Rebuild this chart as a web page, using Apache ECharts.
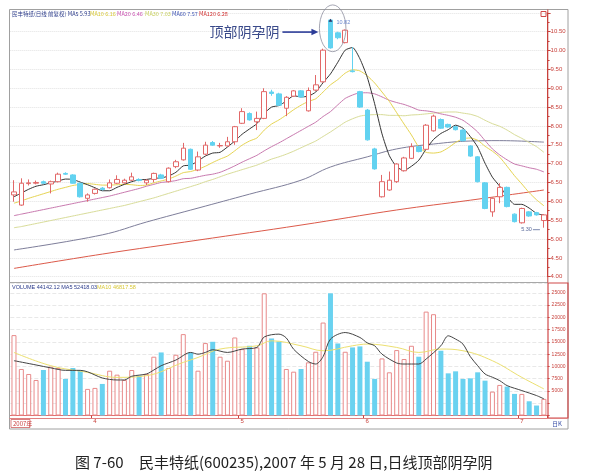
<!DOCTYPE html>
<html><head><meta charset="utf-8">
<script src="https://cdn.jsdelivr.net/npm/echarts/dist/echarts.min.js"></script>
<style>html,body{margin:0;padding:0;background:#fff}#c{width:595px;height:473px}</style>
</head><body><div id="c"></div>
<script>
// ---------- data ----------
const year = '2007';
const dates = ['03-20','03-21','03-22','03-23','03-26','03-27','03-28','03-29','03-30',
 '04-02','04-03','04-04','04-05','04-06','04-09','04-10','04-11','04-12','04-13','04-16','04-17','04-18','04-19','04-20','04-23','04-24','04-25','04-26','04-27','04-30',
 '05-08','05-09','05-10','05-11','05-14','05-15','05-16','05-17','05-18','05-21','05-22','05-23','05-24','05-25','05-28','05-29','05-30','05-31',
 '06-01','06-04','06-05','06-06','06-07','06-08','06-11','06-12','06-13','06-14','06-15','06-18','06-19','06-20','06-21','06-22','06-25','06-26','06-27','06-28','06-29',
 '07-02','07-03','07-04','07-05'];
const opens = [6.17,5.90,6.47,6.48,6.52,6.46,6.52,6.74,6.70,6.48,
 6.08,6.21,6.35,6.36,6.48,6.49,6.56,6.58,6.49,6.58,
 6.70,6.52,6.92,7.10,7.38,6.83,7.25,7.56,7.47,7.47,
 7.58,8.07,8.33,8.11,8.20,8.90,8.85,8.47,8.79,8.93,
 8.40,8.95,9.17,10.81,10.47,10.21,9.46,8.91,8.42,7.39,
 6.12,6.30,6.52,6.81,7.14,7.45,7.38,7.87,8.17,8.04,
 7.98,7.89,7.47,7.18,6.49,5.72,6.12,6.37,5.66,5.43,
 5.72,5.70,5.49];
const closes = [6.25,6.48,6.49,6.50,6.48,6.52,6.72,6.72,6.48,6.12,
 6.17,6.32,6.31,6.49,6.58,6.56,6.65,6.55,6.56,6.74,
 6.61,6.88,7.05,7.41,6.85,7.18,7.49,7.49,7.48,7.58,
 7.98,8.38,8.16,8.20,8.91,8.86,8.55,8.76,8.93,8.77,
 8.94,9.09,10.01,10.07,10.34,10.54,9.44,8.50,7.63,6.86,
 6.52,6.56,6.99,7.15,7.45,7.32,8.02,8.26,7.94,7.97,
 7.90,7.61,7.20,6.52,5.81,6.08,6.37,5.86,5.46,5.81,
 5.61,5.64,5.64];
const lows = [5.99,5.88,6.42,6.45,6.46,6.21,6.50,6.70,6.47,6.10,
 5.99,6.18,6.29,6.34,6.46,6.47,6.54,6.53,6.43,6.50,
 6.59,6.50,6.88,7.08,6.83,6.80,7.22,7.47,7.42,7.45,
 7.50,8.05,8.14,7.89,8.18,8.80,8.53,8.26,8.77,8.75,
 8.38,8.93,9.15,10.05,10.30,10.19,9.42,8.48,7.61,6.84,
 6.10,6.28,6.49,6.79,7.12,7.30,7.36,7.85,7.92,7.95,
 7.88,7.59,7.18,6.50,5.79,5.59,5.95,5.84,5.44,5.41,
 5.59,5.62,5.30];
const highs = [6.56,6.61,6.58,6.55,6.55,6.55,6.76,6.77,6.72,6.50,
 6.21,6.34,6.38,6.58,6.69,6.60,6.76,6.61,6.58,6.76,
 6.73,6.90,7.10,7.55,7.40,7.32,7.58,7.60,7.55,7.71,
 8.00,8.47,8.36,8.38,9.00,8.96,8.88,8.79,8.95,8.95,
 9.02,9.35,10.05,10.82,10.50,10.56,10.09,8.93,8.45,7.42,
 6.70,6.79,7.01,7.18,7.54,7.47,8.05,8.30,8.20,8.06,
 8.00,7.91,7.49,7.20,6.51,6.10,6.48,6.39,5.68,5.83,
 5.74,5.72,5.66];
const volumes = [16380,9480,8460,7240,9270,9950,9680,7450,9680,9270,
 5420,5620,6430,9130,8320,7240,9270,8120,8460,11980,
 12850,9680,12380,16580,12850,9130,14760,15020,11980,11160,
 15900,13530,14210,13870,24900,15700,15090,9480,8930,9480,
 10830,12990,18940,24900,14680,12990,13870,14080,10960,7450,
 11630,8800,13330,11510,14210,11980,21170,20640,13200,8590,
 9000,7450,7570,8800,7100,4870,6230,5890,4400,4400,
 2900,2030,3390];
const ma5 = [6.12,6.22,6.32,6.40,6.44,6.49,6.54,6.59,6.58,6.51,
 6.44,6.36,6.28,6.28,6.37,6.45,6.52,6.57,6.58,6.61,
 6.62,6.67,6.77,6.94,6.96,7.07,7.20,7.28,7.30,7.44,
 7.60,7.78,7.92,8.06,8.33,8.50,8.54,8.66,8.80,8.77,
 8.79,8.90,9.15,9.38,9.69,10.01,10.08,9.78,9.29,8.59,
 7.79,7.21,6.91,6.82,6.93,7.09,7.39,7.64,7.80,7.90,
 8.02,7.94,7.72,7.44,7.01,6.64,6.40,6.13,5.92,5.92,
 5.82,5.68,5.63];
const ma10 = [5.95,6.01,6.08,6.14,6.20,6.26,6.32,6.37,6.42,6.45,
 6.47,6.45,6.43,6.43,6.44,6.45,6.44,6.42,6.43,6.49,
 6.54,6.59,6.67,6.76,6.79,6.85,6.93,7.03,7.12,7.20,
 7.34,7.49,7.60,7.68,7.89,8.05,8.16,8.29,8.43,8.55,
 8.65,8.72,8.90,9.09,9.23,9.40,9.49,9.46,9.33,9.14,
 8.90,8.65,8.35,8.05,7.76,7.44,7.30,7.28,7.31,7.42,
 7.56,7.66,7.68,7.62,7.46,7.33,7.17,6.93,6.68,6.46,
 6.23,6.04,5.88];
const ma20 = [5.62,5.66,5.70,5.74,5.78,5.82,5.86,5.90,5.94,5.98,
 6.02,6.06,6.10,6.14,6.19,6.24,6.29,6.34,6.40,6.45,
 6.50,6.52,6.55,6.60,6.61,6.65,6.69,6.72,6.77,6.85,
 6.94,7.04,7.13,7.22,7.34,7.45,7.55,7.66,7.77,7.88,
 7.99,8.10,8.25,8.38,8.56,8.73,8.82,8.88,8.88,8.85,
 8.77,8.68,8.62,8.57,8.50,8.42,8.40,8.37,8.32,8.28,
 8.23,8.15,8.01,7.84,7.61,7.39,7.23,7.10,6.99,6.94,
 6.89,6.85,6.78];
const ma30 = [5.30,5.33,5.37,5.41,5.45,5.49,5.53,5.57,5.61,5.65,
 5.69,5.73,5.77,5.81,5.85,5.89,5.94,5.99,6.04,6.09,
 6.15,6.21,6.27,6.33,6.39,6.45,6.52,6.58,6.65,6.72,
 6.78,6.84,6.90,6.96,7.04,7.12,7.18,7.25,7.33,7.42,
 7.51,7.60,7.72,7.84,7.97,8.10,8.19,8.26,8.29,8.30,
 8.30,8.28,8.28,8.27,8.29,8.30,8.32,8.34,8.36,8.37,
 8.37,8.34,8.31,8.25,8.15,8.06,7.99,7.89,7.77,7.67,
 7.56,7.45,7.30];
const ma60Pts = [[0,4.71],[12,5.11],[18,5.45],[25,5.82],[32,6.19],[39,6.56],[43,6.91],[48,7.18],[52,7.39],[57,7.52],[62,7.60],[66,7.61],[72,7.57]];
const ma120Pts = [[0,4.22],[12,4.60],[25,4.97],[39,5.37],[52,5.77],[62,6.03],[72,6.30]];
const volMa5Pts = [[0,11170],[3,10300],[5,9700],[7,9200],[9,9200],[10,8900],[12,7650],[14,7240],[15,7240],[16,8000],[18,8460],[19,9270],[20,10150],[22,11300],[24,12850],[25,12500],[26,12850],[27,13400],[29,12850],[31,13540],[33,13870],[34,16000],[36,16580],[37,15800],[38,13500],[40,11000],[41,10490],[42,12000],[43,15570],[45,16910],[47,15900],[48,14800],[49,14210],[50,12500],[52,10700],[53,10490],[55,10490],[56,11510],[58,14210],[59,16240],[60,15570],[61,14550],[62,12000],[63,10150],[64,8460],[65,7800],[66,7100],[67,6090],[69,5080],[71,4060],[72,3390]];
const volMa10Pts = [[0,12850],[5,10150],[10,8790],[14,7770],[18,8120],[23,10820],[25,11830],[28,13540],[33,14210],[35,15220],[39,14210],[42,13200],[46,14210],[48,14550],[52,13870],[55,12850],[58,13540],[61,13200],[65,11160],[69,7770],[72,5420]];
const priceAxis = {min: 4, max: 11, step: 0.5};
const volAxis = {min: 0, max: 27000, step: 2500, firstLabel: 5000, lastLabel: 25000};
const monthTickIdx = [11, 31, 48, 69];
const monthTickLabels = ['4', '5', '6', '7'];
const titleTexts = ['民丰特纸(日线 前复权) MA5 5.93', 'MA10 6.16', 'MA20 6.46', 'MA30 7.03', 'MA60 7.57', 'MA120 6.28'];
const volTitleTexts = ['VOLUME 44142.12 MA5 52418.03', 'MA10 46817.58'];
const highMark = {idx: 43, value: 10.82, label: '10.82'};
const lowMark = {idx: 72, value: 5.30, label: '5.30'};
const patternLabel = '顶部阴孕阴';
const captionNo = '图 7-60';
const captionText = '民丰特纸(600235),2007 年 5 月 28 日,日线顶部阴孕阴';

// ---------- styles ----------
const UP = '#e26868', DOWN = '#62d2f0', AXISRED = '#c8423c';
const C = {ma5:'#333333', ma10:'#e6d452', ma20:'#c878ae', ma30:'#d8dc98', ma60:'#7e7e9a', ma120:'#dc5a4a'};
const titleColors = ['#2a3a8a', '#d8c838', '#c850b0', '#c8d060', '#3a50b0', '#d03030'];
const titleX = [12, 90, 117, 145, 172, 199];
const GL = 10.3, GR = 47.4;

const chart = echarts.init(document.getElementById('c'));
const ohlc = dates.map((d, i) => [opens[i], closes[i], lows[i], highs[i]]);
const upVol = volumes.map((v, i) => closes[i] >= opens[i] ? v : '-');
const downVol = volumes.map((v, i) => closes[i] < opens[i] ? v : '-');
const maLine = (name, data, color, smooth) => ({type:'line', name, data, xAxisIndex:0, yAxisIndex:0,
  symbol:'none', smooth: smooth || false, lineStyle:{color, width:1}, silent:true, z:3});

const option = {
  animation: false,
  backgroundColor: '#ffffff',
  grid: [
    {left: GL, right: GR, top: 12.85, bottom: 196.3},
    {left: GL, right: GR, top: 283, bottom: 57.5}
  ],
  xAxis: [
    {type:'category', gridIndex:0, data: dates, boundaryGap:true,
     axisLine:{show:false}, axisTick:{show:false}, axisLabel:{show:false}, splitLine:{show:false}},
    {type:'category', gridIndex:1, data: dates, boundaryGap:true,
     axisLine:{show:true, lineStyle:{color:'#e07070', width:1}},
     axisTick:{show:true, interval:(i) => monthTickIdx.includes(i), length:3, lineStyle:{color:AXISRED}},
     axisLabel:{show:true, interval:(i) => monthTickIdx.includes(i), margin:3, fontSize:6, color:AXISRED,
       fontFamily:'Liberation Sans',
       formatter:(v, i) => { const k = monthTickIdx.indexOf(i); return k >= 0 ? monthTickLabels[k] : ''; }},
     splitLine:{show:false}}
  ],
  yAxis: [
    {type:'value', gridIndex:0, position:'right', min:priceAxis.min, max:priceAxis.max, interval:priceAxis.step,
     axisLine:{show:true, lineStyle:{color:AXISRED, width:1}},
     axisTick:{show:true, length:3, lineStyle:{color:AXISRED}},
     minorTick:{show:true, splitNumber:2, length:2, lineStyle:{color:AXISRED}},
     axisLabel:{margin:3, fontSize:6, color:AXISRED, fontFamily:'Liberation Sans', showMaxLabel:false,
       formatter:(v) => v >= priceAxis.max - 0.01 ? '' : v.toFixed(2)},
     splitLine:{show:true, lineStyle:{color:'#e2e2e2', type:'dotted', width:1}}},
    {type:'value', gridIndex:1, position:'right', min:volAxis.min, max:volAxis.max, interval:volAxis.step,
     axisLine:{show:false}, axisTick:{show:true, length:2, lineStyle:{color:AXISRED}},
     axisLabel:{margin:4, fontSize:5, color:AXISRED, fontFamily:'Liberation Sans', showMaxLabel:false,
       formatter:(v) => (v >= volAxis.firstLabel && v <= volAxis.lastLabel) ? String(v) : ''},
     splitLine:{show:true, lineStyle:{color:'#e8e8e8', type:'dashed', width:1}}}
  ],
  series: [
    maLine('MA120', ma120Pts, C.ma120, 0.4),
    maLine('MA60', ma60Pts, C.ma60, 0.4),
    maLine('MA30', ma30, C.ma30, 0.2),
    maLine('MA20', ma20, C.ma20, 0.2),
    maLine('MA10', ma10, C.ma10, 0.2),
    {type:'candlestick', name:'K', xAxisIndex:0, yAxisIndex:0, data: ohlc, barWidth:5, z:4,
     itemStyle:{color:'#ffffff', color0:DOWN, borderColor:UP, borderColor0:DOWN, borderWidth:1}},
    maLine('MA5', ma5, C.ma5, 0.2),
    {type:'bar', name:'VOLUP', xAxisIndex:1, yAxisIndex:1, data: upVol, barWidth:5, barGap:'-100%',
     itemStyle:{color:'#ffffff', borderColor:'#e88a8a', borderWidth:1}},
    {type:'bar', name:'VOLDN', xAxisIndex:1, yAxisIndex:1, data: downVol, barWidth:5, barGap:'-100%',
     itemStyle:{color:'#6ad2f0'}},
    {type:'line', name:'VMA10', xAxisIndex:1, yAxisIndex:1, data: volMa10Pts, symbol:'none', smooth:0.4,
     lineStyle:{color:'#ece070', width:1}, z:5},
    {type:'line', name:'VMA5', xAxisIndex:1, yAxisIndex:1, data: volMa5Pts, symbol:'none', smooth:0.3,
     lineStyle:{color:'#444444', width:1}, z:5}
  ]
};
chart.setOption(option);

// ---------- frames & annotations ----------
const px = (idx, val) => chart.convertToPixel({gridIndex:0}, [idx, val]);
const step = px(1, 5)[0] - px(0, 5)[0];
const g = [];
g.push({type:'rect', shape:{x:9.5, y:9.5, width:558.5, height:419.5}, style:{fill:'none', stroke:'#a0a0a0', lineWidth:1}, z:100});
g.push({type:'line', shape:{x1:9.5, y1:282.5, x2:548, y2:282.5}, style:{stroke:'#a8a8a8', lineWidth:1}, z:100});
g.push({type:'line', shape:{x1:547.8, y1:9.5, x2:547.8, y2:282.5}, style:{stroke:AXISRED, lineWidth:1}, z:100});
g.push({type:'rect', shape:{x:548, y:283, width:20, height:135}, style:{fill:'none', stroke:'#d04848', lineWidth:1.2}, z:100});
g.push({type:'line', shape:{x1:9.5, y1:418.5, x2:568, y2:418.5}, style:{stroke:'#e08080', lineWidth:1}, z:100});
g.push({type:'rect', shape:{x:541, y:11.5, width:5, height:5}, style:{fill:'none', stroke:'#d04848', lineWidth:1}, z:100});
g.push({type:'rect', shape:{x:11, y:419.5, width:19, height:8}, style:{fill:'none', stroke:'#d06060', lineWidth:0.8}, z:100});
g.push({type:'text', x:13, y:423.5, style:{text: year + '年', font:'6px "Noto Sans CJK SC"', fill:'#c83c3c', textVerticalAlign:'middle'}, z:101});
g.push({type:'text', x:552, y:424, style:{text:'日K', font:'6px "Noto Sans CJK SC"', fill:'#3a50a8', textVerticalAlign:'middle'}, z:101});
titleTexts.forEach((t, i) => g.push({type:'text', x:titleX[i], y:14, z:101,
  style:{text:t, font:'5.5px "Noto Sans CJK SC"', fill:titleColors[i], textVerticalAlign:'middle'}}));
g.push({type:'text', x:12, y:287, z:101, style:{text:volTitleTexts[0], font:'5.5px "Liberation Sans"', fill:'#2a3a8a', textVerticalAlign:'middle'}});
g.push({type:'text', x:97, y:287, z:101, style:{text:volTitleTexts[1], font:'5.5px "Liberation Sans"', fill:'#d8c838', textVerticalAlign:'middle'}});
const pA = px(highMark.idx, 10.59);
const cx = pA[0] + 0.3 * step, cy = pA[1];
const ry = cy - px(highMark.idx, 10.59 + 0.62)[1];
const rx = 1.8 * step;
g.push({type:'circle', x:cx, y:cy, scaleX: rx / ry, shape:{cx:0, cy:0, r:ry},
  style:{fill:'none', stroke:'#8a8c9c', lineWidth:1, strokeNoScale:true}, z:102});
const ay = px(highMark.idx, 10.49)[1];
const ax2 = cx - rx - 1, ax1 = ax2 - 36;
g.push({type:'line', shape:{x1:ax1, y1:ay, x2:ax2 - 5, y2:ay}, style:{stroke:'#2c3c98', lineWidth:1.6}, z:102});
g.push({type:'polygon', shape:{points:[[ax2, ay], [ax2 - 7, ay - 3.2], [ax2 - 7, ay + 3.2]]}, style:{fill:'#2c3c98'}, z:102});
g.push({type:'text', x:ax1 - 3, y:ay, z:102, style:{text:patternLabel, font:'14px "Noto Sans CJK SC"', fill:'#3a4a8a', textAlign:'right', textVerticalAlign:'middle'}});
const hp = px(highMark.idx, highMark.value);
g.push({type:'text', x:hp[0] + 6, y:hp[1] + 3, z:102, style:{text:highMark.label, font:'5.5px "Liberation Sans"', fill:'#6a88d0', textVerticalAlign:'middle'}});
g.push({type:'polygon', shape:{points:[[hp[0], hp[1] - 1], [hp[0] + 2, hp[1] + 2], [hp[0] - 2, hp[1] + 2]]}, style:{fill:'#303060'}, z:102});
const lp = px(lowMark.idx, lowMark.value);
g.push({type:'text', x:lp[0] - 12, y:lp[1] + 2, z:102, style:{text:lowMark.label, font:'5.5px "Liberation Sans"', fill:'#5a6a9a', textAlign:'right', textVerticalAlign:'middle'}});
g.push({type:'line', shape:{x1:lp[0] - 11, y1:lp[1] + 2, x2:lp[0] - 4, y2:lp[1] + 2}, style:{stroke:'#5a6a9a', lineWidth:0.8}, z:102});
g.push({type:'text', x:75, y:462, z:101, style:{text:captionNo, font:'15px "Noto Sans CJK SC"', fill:'#222', textVerticalAlign:'middle'}});
g.push({type:'text', x:139, y:462, z:101, style:{text:captionText, font:'15px "Noto Sans CJK SC"', fill:'#222', textVerticalAlign:'middle'}});
chart.setOption({graphic: g});
</script></body></html>
